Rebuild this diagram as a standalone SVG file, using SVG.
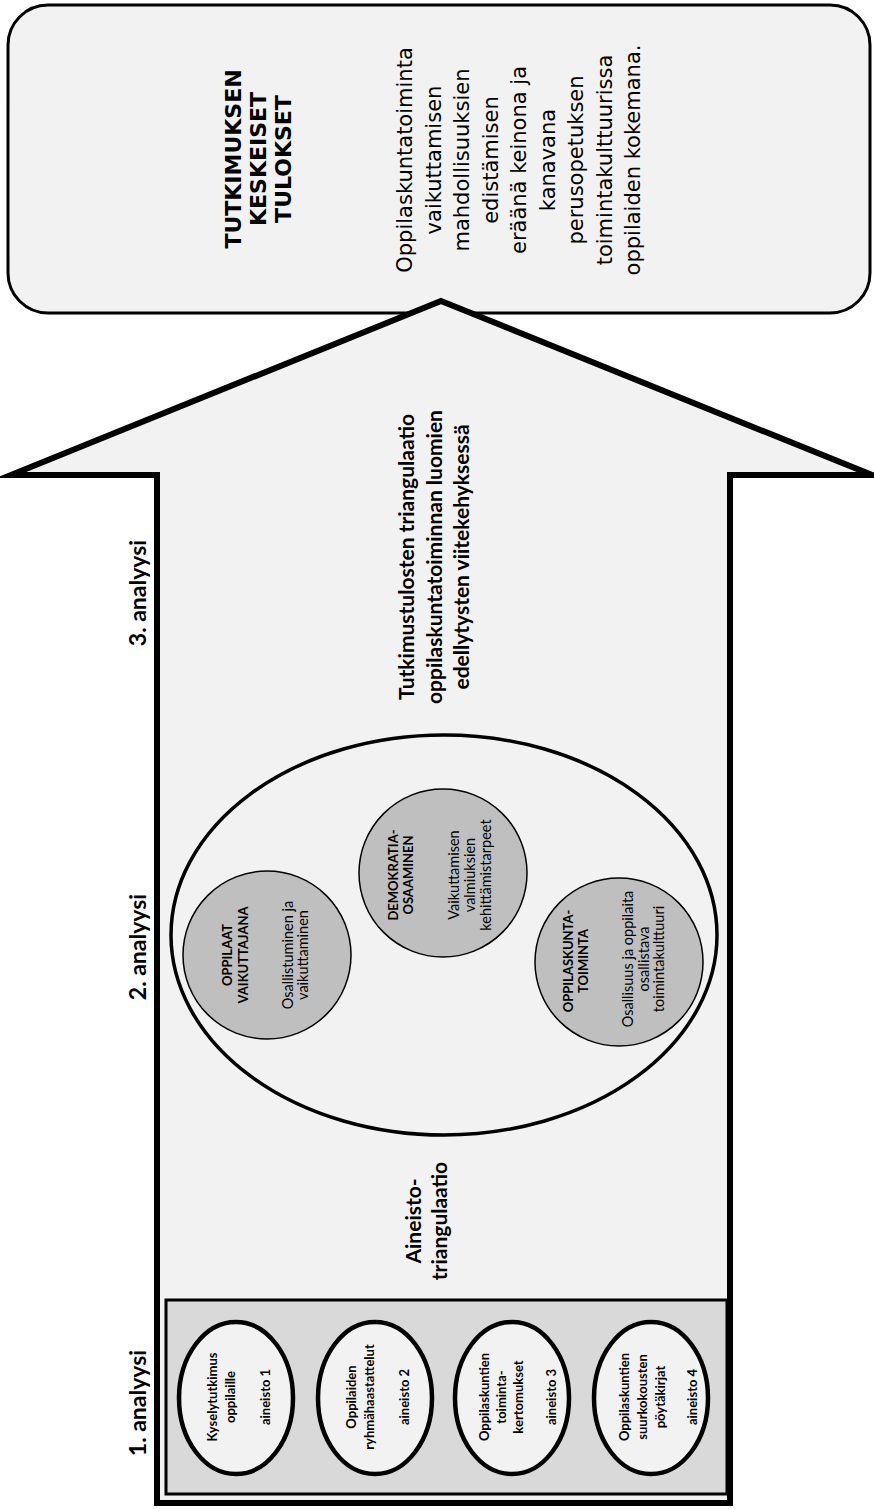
<svg xmlns="http://www.w3.org/2000/svg" width="874" height="1509" viewBox="0 0 874 1509">
<style>
text{dominant-baseline:central;text-anchor:middle;fill:#000}
.lb{font-family:Lato,"Liberation Sans",sans-serif;font-weight:bold}
.lr{font-family:Lato,"Liberation Sans",sans-serif}
.dv{font-family:"DejaVu Sans",sans-serif}
.dvb{font-family:"DejaVu Sans",sans-serif;font-weight:bold}
.src{fill:#f2f2f2;stroke:#000;stroke-width:4.5}
.theme{fill:#bfbfbf;stroke:#000;stroke-width:1.5}
</style>
<rect width="874" height="1509" fill="#fff"/>
<g id="results">
<rect x="8" y="5" width="862" height="308" rx="40" fill="#f2f2f2" stroke="#000" stroke-width="3"/>
<text class="dvb" font-size="22" transform="translate(0,159) rotate(-90)"><tspan x="0" y="233">TUTKIMUKSEN</tspan><tspan x="0" y="258">KESKEISET</tspan><tspan x="0" y="283">TULOKSET</tspan></text>
<text class="dv" font-size="21" transform="translate(0,160) rotate(-90)"><tspan x="0" y="405">Oppilaskuntatoiminta</tspan><tspan x="0" y="433.5">vaikuttamisen</tspan><tspan x="0" y="462">mahdollisuuksien</tspan><tspan x="0" y="490.5">edistämisen</tspan><tspan x="0" y="519">eräänä keinona ja</tspan><tspan x="0" y="547.5">kanavana</tspan><tspan x="0" y="576">perusopetuksen</tspan><tspan x="0" y="604.5">toimintakulttuurissa</tspan><tspan x="0" y="633">oppilaiden kokemana.</tspan></text>
</g>
<g id="arrow">
<polygon points="441,301 872,475 730,475 730,1503 157,1503 157,475 11,475" fill="#f2f2f2" stroke="#000" stroke-width="6" stroke-linejoin="miter" stroke-miterlimit="12"/>
</g>
<g id="labels">
<text class="lb" font-size="23" transform="translate(0,593) rotate(-90)"><tspan x="0" y="137">3. analyysi</tspan></text>
<text class="lb" font-size="23" transform="translate(0,947) rotate(-90)"><tspan x="0" y="137">2. analyysi</tspan></text>
<text class="lb" font-size="23" transform="translate(0,1403) rotate(-90)"><tspan x="0" y="137">1. analyysi</tspan></text>
</g>
<g id="triangulation-3">
<text class="lb" font-size="21" transform="translate(0,557) rotate(-90)"><tspan x="0" y="405">Tutkimustulosten triangulaatio</tspan><tspan x="0" y="433">oppilaskuntatoiminnan luomien</tspan><tspan x="0" y="460">edellytysten viitekehyksessä</tspan></text>
</g>
<g id="analysis-2">
<ellipse cx="444" cy="935" rx="273" ry="200" fill="none" stroke="#000" stroke-width="3.5"/>
</g>
<g id="theme-oppilaat">
<circle cx="267" cy="955" r="84" class="theme"/>
<text class="lb" font-size="13" transform="translate(0,955) rotate(-90)"><tspan x="0" y="227">OPPILAAT</tspan><tspan x="0" y="243">VAIKUTTAJANA</tspan></text>
<text class="lr" font-size="14.5" transform="translate(0,955) rotate(-90)"><tspan x="0" y="287">Osallistuminen ja</tspan><tspan x="0" y="302">vaikuttaminen</tspan></text>
</g>
<g id="theme-demokratia">
<circle cx="443" cy="873" r="84" class="theme"/>
<text class="lb" font-size="13" transform="translate(0,875) rotate(-90)"><tspan x="0" y="393">DEMOKRATIA-</tspan><tspan x="0" y="408">OSAAMINEN</tspan></text>
<text class="lr" font-size="14.5" transform="translate(0,875) rotate(-90)"><tspan x="0" y="453">Vaikuttamisen</tspan><tspan x="0" y="469">valmiuksien</tspan><tspan x="0" y="485">kehittämistarpeet</tspan></text>
</g>
<g id="theme-oppilaskunta">
<circle cx="619" cy="962" r="84" class="theme"/>
<text class="lb" font-size="13" transform="translate(0,961) rotate(-90)"><tspan x="0" y="568">OPPILASKUNTA-</tspan><tspan x="0" y="583">TOIMINTA</tspan></text>
<text class="lr" font-size="14.5" transform="translate(0,959) rotate(-90)"><tspan x="0" y="627">Osallisuus ja oppilaita</tspan><tspan x="0" y="643">osallistava</tspan><tspan x="0" y="658">toimintakulttuuri</tspan></text>
</g>
<g id="triangulation-1">
<text class="lb" font-size="21" transform="translate(0,1221) rotate(-90)"><tspan x="0" y="412">Aineisto-</tspan><tspan x="0" y="438">triangulaatio</tspan></text>
</g>
<g id="analysis-1">
<rect x="166" y="1300" width="561" height="194" fill="#d9d9d9" stroke="#000" stroke-width="3"/>
</g>
<g id="source-1">
<ellipse cx="236" cy="1398" rx="57" ry="76" class="src"/>
<text class="lb" font-size="13" transform="translate(0,1397) rotate(-90)"><tspan x="0" y="212">Kyselytutkimus</tspan><tspan x="0" y="230">oppilaille</tspan><tspan x="0" y="265">aineisto 1</tspan></text>
</g>
<g id="source-2">
<ellipse cx="375" cy="1398" rx="57" ry="76" class="src"/>
<text class="lb" font-size="13" transform="translate(0,1397) rotate(-90)"><tspan x="0" y="351">Oppilaiden</tspan><tspan x="0" y="369">ryhmähaastattelut</tspan><tspan x="0" y="404">aineisto 2</tspan></text>
</g>
<g id="source-3">
<ellipse cx="512" cy="1398" rx="57" ry="76" class="src"/>
<text class="lb" font-size="13" transform="translate(0,1397) rotate(-90)"><tspan x="0" y="484">Oppilaskuntien</tspan><tspan x="0" y="501">toiminta-</tspan><tspan x="0" y="518">kertomukset</tspan><tspan x="0" y="551">aineisto 3</tspan></text>
</g>
<g id="source-4">
<ellipse cx="651" cy="1398" rx="57" ry="76" class="src"/>
<text class="lb" font-size="13" transform="translate(0,1397) rotate(-90)"><tspan x="0" y="624">Oppilaskuntien</tspan><tspan x="0" y="642">suurkokousten</tspan><tspan x="0" y="660">pöytäkirjat</tspan><tspan x="0" y="692">aineisto 4</tspan></text>
</g>
<g id="connectors"></g>
</svg>
